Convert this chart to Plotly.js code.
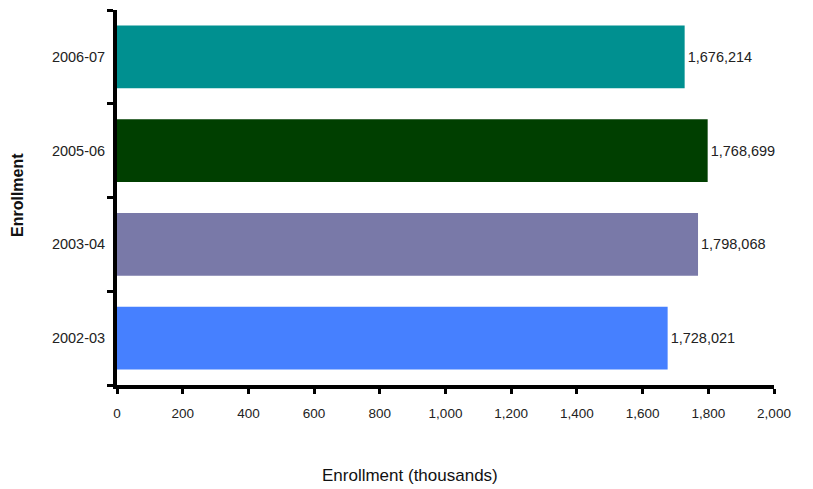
<!DOCTYPE html>
<html>
<head>
<meta charset="utf-8">
<script src="https://cdn.plot.ly/plotly-3.0.1.min.js"></script>
<style>html,body{margin:0;padding:0;background:#fff;}#chart{width:813px;height:489px;}</style>
</head>
<body>
<div id="chart"></div>
<script>
var categories = ['2002-03', '2003-04', '2005-06', '2006-07'];
var values = [1676.214, 1768.699, 1798.068, 1728.021];
var valueLabels = ['1,728,021', '1,798,068', '1,768,699', '1,676,214'];
var barColors = ['#4680ff', '#7979a8', '#003f00', '#009090'];
var xTickVals = [0, 200, 400, 600, 800, 1000, 1200, 1400, 1600, 1800, 2000];
var xTickText = ['0', '200', '400', '600', '800', '1,000', '1,200', '1,400', '1,600', '1,800', '2,000'];

var font = 'Liberation Sans, Arial, sans-serif';

var trace = {
  type: 'bar',
  orientation: 'h',
  y: categories,
  x: values,
  text: valueLabels,
  textposition: 'outside',
  cliponaxis: false,
  textfont: {family: font, size: 14.5, color: '#222'},
  marker: {color: barColors, line: {width: 0}},
  width: 0.67,
  hoverinfo: 'none'
};

var layout = {
  width: 813, height: 489,
  margin: {l: 117, r: 39, t: 10, b: 104, pad: 0},
  paper_bgcolor: '#fff', plot_bgcolor: '#fff',
  showlegend: false,
  font: {family: font, size: 14, color: '#222'},
  xaxis: {
    range: [0, 2000],
    tickvals: xTickVals, ticktext: xTickText,
    showgrid: false, zeroline: false,
    showline: true, linecolor: '#000', linewidth: 4,
    ticks: 'outside', ticklen: 5, tickwidth: 3, tickcolor: '#000',
    ticklabelstandoff: 8,
    tickfont: {family: font, size: 13.5, color: '#222'}
  },
  yaxis: {
    type: 'category',
    categoryorder: 'array', categoryarray: categories,
    range: [-0.5, 3.5],
    showgrid: false, zeroline: false,
    showline: true, linecolor: '#000', linewidth: 4,
    ticks: 'outside', tickson: 'boundaries', ticklen: 6, tickwidth: 3, tickcolor: '#000',
    ticklabelstandoff: 5,
    tickfont: {family: font, size: 14.5, color: '#222'}
  },
  annotations: [
    {xref: 'paper', yref: 'paper', x: (410 - 117) / 657, y: -(476 - 385) / 375,
     xanchor: 'center', yanchor: 'middle', showarrow: false,
     text: 'Enrollment (thousands)', font: {family: font, size: 17, color: '#111'}},
    {xref: 'paper', yref: 'paper', x: -(117 - 18) / 657, y: (385 - 195) / 375,
     xanchor: 'center', yanchor: 'middle', showarrow: false, textangle: -90,
     text: '<b>Enrollment</b>', font: {family: font, size: 16, color: '#111'}}
  ]
};

Plotly.newPlot('chart', [trace], layout, {staticPlot: true, displayModeBar: false});
</script>
</body>
</html>
